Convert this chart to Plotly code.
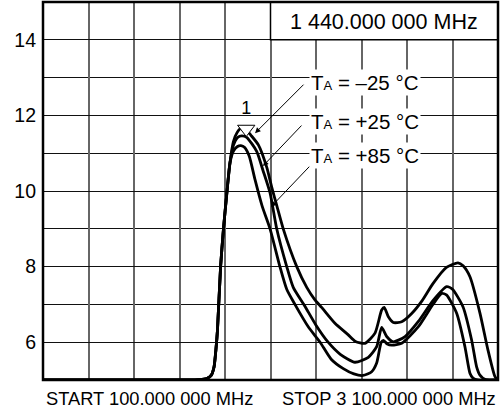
import plotly.graph_objects as go

# ---- data (MHz, dB) ----
freq_rise = [100, 1050, 1130, 1180, 1210, 1228, 1240, 1250, 1271, 1290, 1311, 1333]
lvl_rise = [5.0, 5.0, 5.01, 5.04, 5.13, 5.35, 5.8, 6.3, 8.0, 9.0, 9.9, 10.75]

freq_m25 = [1355, 1380, 1410, 1440, 1470, 1520, 1575, 1608, 1641, 1684, 1773, 1839, 1893, 1937,
            2025, 2111, 2160, 2223, 2289, 2333, 2350, 2377, 2410, 2465, 2531, 2600, 2671, 2760,
            2836, 2870, 2915, 2981, 3034, 3080, 3100]
lvl_m25 = [11.3, 11.55, 11.67, 11.62, 11.48, 11.22, 10.63, 10.1, 9.62, 9.0, 8.0, 7.45, 7.12, 6.92,
           6.5, 6.2, 6.02, 5.97, 6.24, 6.85, 6.92, 6.67, 6.52, 6.54, 6.76, 7.1, 7.55, 7.98,
           8.1, 8.02, 7.73, 6.77, 5.79, 5.09, 5.0]

freq_p25 = [1355, 1385, 1410, 1443, 1509, 1550, 1597, 1641, 1707, 1750, 1827, 1900, 1980, 2060,
            2157, 2245, 2300, 2333, 2366, 2410, 2487, 2575, 2671, 2762, 2800, 2869, 2926, 2959,
            2981, 3014, 3100]
lvl_p25 = [11.2, 11.42, 11.46, 11.42, 11.05, 10.55, 9.95, 9.0, 8.0, 7.45, 6.95, 6.45, 6.0, 5.68,
           5.47, 5.6, 5.88, 6.39, 6.15, 6.01, 6.15, 6.55, 7.1, 7.47, 7.4, 6.94, 6.06, 5.35,
           5.13, 5.02, 5.0]

freq_p85 = [1355, 1380, 1405, 1430, 1460, 1498, 1545, 1597, 1662, 1707, 1761, 1850, 1927, 2000,
            2080, 2150, 2210, 2267, 2300, 2330, 2345, 2370, 2400, 2465, 2575, 2671, 2729, 2760,
            2828, 2882, 2915, 2935, 2968, 3100]
lvl_p85 = [11.05, 11.17, 11.2, 11.15, 10.92, 10.3, 9.6, 9.0, 8.0, 7.4, 7.0, 6.4, 6.0, 5.55,
           5.3, 5.16, 5.12, 5.22, 5.45, 6.0, 6.05, 5.95, 5.92, 5.97, 6.41, 7.0, 7.29, 7.25,
           6.76, 5.88, 5.18, 5.05, 5.0, 5.0]

series_names = ["TA = -25 °C", "TA = +25 °C", "TA = +85 °C"]
label_texts = ["T<span style=\"font-size:13px\">A</span> = \u201325 °C",
               "T<span style=\"font-size:13px\">A</span> = +25 °C",
               "T<span style=\"font-size:13px\">A</span> = +85 °C"]
marker_freq = [1440]
marker_level = [11.64]
ytick_vals = [6, 8, 10, 12, 14]
ytick_text = ["6", "8", "10", "12", "14"]
center_text = "1 440.000 000 MHz"
start_text = "START 100.000 000 MHz"
stop_text = "STOP 3 100.000 000 MHz"

FONT = "Liberation Sans, Arial, sans-serif"

fig = go.Figure()
for name, fx, lv in zip(series_names, [freq_m25, freq_p25, freq_p85], [lvl_m25, lvl_p25, lvl_p85]):
    fig.add_trace(go.Scatter(
        x=freq_rise + fx, y=lvl_rise + lv, mode="lines", name=name,
        line=dict(color="black", width=2.8, shape="spline", smoothing=0.6),
        showlegend=False, hoverinfo="skip"))

fig.add_trace(go.Scatter(
    x=marker_freq, y=marker_level, mode="markers+text", text=["1"], textposition="top center",
    textfont=dict(family=FONT, size=18, color="black"),
    marker=dict(symbol="triangle-down", size=15, color="white", line=dict(color="black", width=1)),
    showlegend=False, hoverinfo="skip"))

# top-right frequency box
fig.add_shape(type="rect", xref="x", yref="y", x0=1600, x1=3100, y0=14, y1=15,
              fillcolor="white", line=dict(color="black", width=1.5), layer="above")
fig.add_annotation(x=2350, y=14.47, xref="x", yref="y", text=center_text, showarrow=False,
                   font=dict(family=FONT, size=21.5, color="black"))

# arrows
arrow_heads = [(1498, 11.53), (1550, 10.66), (1603, 9.58)]
arrow_offsets = [(50, -50), (40, -42), (40, -42)]
for (hx, hy), (ax, ay) in zip(arrow_heads, arrow_offsets):
    fig.add_annotation(x=hx, y=hy, xref="x", yref="y", text="", showarrow=True,
                       ax=ax, ay=ay, arrowhead=2, arrowsize=1.1, arrowwidth=1, arrowcolor="black")

label_y = [12.86, 11.85, 10.93]
for t, ly in zip(label_texts, label_y):
    fig.add_annotation(x=1855, y=ly, xref="x", yref="y", text=t, showarrow=False,
                       xanchor="left", yanchor="middle", bgcolor="white", borderpad=1,
                       font=dict(family=FONT, size=20.5, color="black"))

fig.add_annotation(x=0, y=0, xref="paper", yref="paper", text=start_text, showarrow=False,
                   xanchor="left", yanchor="top", xshift=1, yshift=-6,
                   font=dict(family=FONT, size=18.3, color="black"))
fig.add_annotation(x=1, y=0, xref="paper", yref="paper", text=stop_text, showarrow=False,
                   xanchor="right", yanchor="top", xshift=0, yshift=-6,
                   font=dict(family=FONT, size=18.3, color="black"))

# frame
fig.add_shape(type="rect", xref="paper", yref="paper", x0=0, x1=1, y0=0, y1=1,
              line=dict(color="black", width=2.5), layer="above")

fig.update_layout(
    width=503, height=412, margin=dict(l=43, r=5, t=2, b=32),
    paper_bgcolor="white", plot_bgcolor="white",
    font=dict(family=FONT, color="black"),
    xaxis=dict(range=[100, 3100], dtick=300, tick0=100, showgrid=True, gridcolor="#666",
               gridwidth=1.5, showticklabels=False, zeroline=False, showline=False, ticks=""),
    yaxis=dict(range=[5, 15], tickvals=ytick_vals, ticktext=ytick_text, showgrid=True,
               gridcolor="#111", gridwidth=1, zeroline=False, showline=False, ticks="",
               ticklabelstandoff=6, tickfont=dict(family=FONT, size=19.5, color="black"),
               minor=dict(dtick=1, tick0=5, showgrid=True, gridcolor="#111", gridwidth=1)),
)

fig.write_html("out.html", config={"displayModeBar": False},
               post_script="document.body.style.margin='0';document.body.style.overflow='hidden';")
